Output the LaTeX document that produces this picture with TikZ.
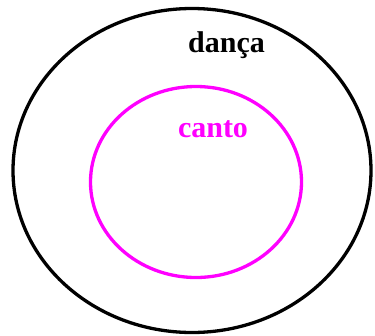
\documentclass[tikz,border=0pt]{standalone}
\usepackage{fontspec}
\setmainfont{Liberation Serif}
\usepackage{xcolor}
\definecolor{mag}{HTML}{FF00FF}

\begin{document}
\begin{tikzpicture}[x=1pt, y=-1pt,
  set/.style={line width=3.3pt},
  lbl/.style={anchor=base, inner sep=0pt, font=\fontsize{30}{30}\selectfont\bfseries},
]
  \useasboundingbox (0,0) rectangle (375,335);
  % outer set
  \draw[set, black] (192,170.5) ellipse [x radius=179, y radius=162];
  \node[lbl, text=black] (danca) at (226.5,52) {dança};
  % inner set
  \draw[set, mag] (196,182) ellipse [x radius=105.5, y radius=95.5];
  \node[lbl, text=mag] (canto) at (213,137) {canto};
\end{tikzpicture}
\end{document}
